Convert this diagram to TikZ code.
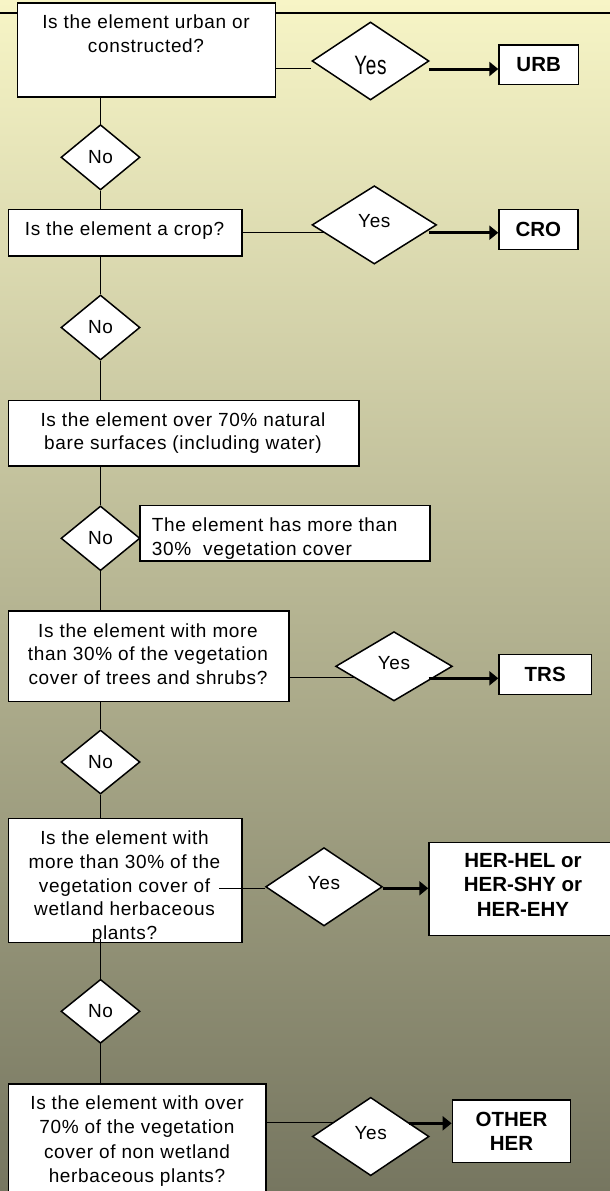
\documentclass[tikz,border=0pt]{standalone}
\usepackage{fontspec}
\setmainfont{Liberation Sans}
\newfontfamily\qfam{Liberation Sans}[LetterSpace=3.5]
\newfontfamily\bfam{Liberation Sans}
\usetikzlibrary{shapes.geometric,arrows.meta,calc}
\pgfdeclarelayer{bg}
\pgfsetlayers{bg,main}
\definecolor{bgtop}{RGB}{247,245,198}
\definecolor{bgmid}{RGB}{186,186,150}
\definecolor{bgbot}{RGB}{118,118,96}
\tikzset{
  qbox/.style={draw, line width=1.5pt, fill=white, rectangle, inner sep=0pt},
  qtext/.style={font=\qfam\fontsize{19}{23.5}\selectfont, align=center, inner sep=0pt},
  dia/.style={draw, line width=1.5pt, fill=white, diamond, inner sep=0pt, font=\qfam\fontsize{19}{23}\selectfont},
  res/.style={draw, line width=1.5pt, fill=white, rectangle, inner sep=0pt, font=\bfam\bfseries\fontsize{20.5}{24.5}\selectfont, align=center},
  conn/.style={line width=1.4pt},
  arr/.style={line width=3pt, -{Triangle[length=9pt,width=14pt]}},
}
\begin{document}
\begin{tikzpicture}[x=1pt,y=-1pt]
\useasboundingbox (0,0) rectangle (610,1191);
% question boxes
\node[qbox, minimum width=257.9pt, minimum height=94.3pt] (box1) at (146.5,49.9) {};
\node[qbox, minimum width=233.4pt, minimum height=46.7pt] (box2) at (125.3,232.7) {};
\node[qbox, minimum width=350.4pt, minimum height=65.3pt] (box3) at (183.8,433.3) {};
\node[qbox, minimum width=290pt, minimum height=55.3pt] (veg) at (285,533.3) {};
\node[qbox, minimum width=280.4pt, minimum height=90.7pt] (box4) at (148.8,656.3) {};
\node[qbox, minimum width=233.4pt, minimum height=124.4pt] (box5) at (125.3,880.5) {};
\node[qbox, minimum width=257.1pt, minimum height=116pt] (box6) at (137.2,1142) {};
% question texts
\node[qtext, anchor=north] (t1) at (146,14.7) {Is the element urban or\\constructed?};
\node[qtext] (t2) at (124.5,230.2) {Is the element a crop?};
\node[qtext] (t3) at (183,433.2) {Is the element over 70\% natural\\bare surfaces (including water)};
\node[qtext] (t4) at (148,653.8) {Is the element with more\\than 30\% of the vegetation\\cover of trees and shrubs?};
\begin{scope}
  \clip ($(veg.south west)+(0.8,-0.8)$) rectangle ($(veg.north east)+(-0.8,0.8)$);
  \node[qtext, align=left, anchor=north west, font=\qfam\fontsize{19}{24.3}\selectfont] (tveg) at (151.7,517.1) {The element has more than\\30\%~ vegetation cover};
\end{scope}
\begin{scope}
  \clip ($(box5.south west)+(0.8,-0.8)$) rectangle ($(box5.north east)+(-0.8,0.8)$);
  \node[qtext, anchor=north, font=\qfam\fontsize{19}{23.6}\selectfont] (t5) at (124.5,831) {Is the element with\\more than 30\% of the\\vegetation cover of\\wetland herbaceous\\plants?};
\end{scope}
\node[qtext, anchor=north, font=\qfam\fontsize{19}{24.2}\selectfont] (t6) at (137,1095.7) {Is the element with over\\70\% of the vegetation\\cover of non wetland\\herbaceous plants?};
% diamonds
\node[dia, minimum width=117pt, minimum height=78pt, text height=26pt, text depth=0pt] (yes1) at (370.5,61) {\scalebox{1}[1.4]{Yes}};
\node[dia, minimum width=124.5pt, minimum height=78.3pt, text depth=7pt] (yes2) at (374.3,224.9) {Yes};
\node[dia, minimum width=116.7pt, minimum height=69.3pt, text depth=7pt] (yes4) at (394,666.3) {Yes};
\node[dia, minimum width=116.7pt, minimum height=78.3pt, text depth=7pt] (yes5) at (324,886.8) {Yes};
\node[dia, minimum width=116.7pt, minimum height=78.4pt, text depth=7pt] (yes6) at (370.7,1136.5) {Yes};
\node[dia, minimum width=79pt, minimum height=65.3pt] (no1) at (100.5,157.3) {No};
\node[dia, minimum width=79pt, minimum height=65pt] (no2) at (100.5,327.5) {No};
\node[dia, minimum width=79pt, minimum height=64.7pt] (no3) at (100.5,538.3) {No};
\node[dia, minimum width=79pt, minimum height=64pt] (no4) at (100.5,762) {No};
\node[dia, minimum width=79pt, minimum height=64pt] (no5) at (100.5,1011.3) {No};
% result boxes
\node[res, minimum width=79.3pt, minimum height=39.3pt] (urb) at (538.7,64.7) {URB};
\node[res, minimum width=78.7pt, minimum height=40pt] (cro) at (538.4,229.3) {CRO};
\node[res, minimum width=92.3pt, minimum height=40pt] (trs) at (545.2,674.3) {TRS};
\node[res, minimum width=188pt, minimum height=93.4pt, text depth=9pt] (her) at (523,889) {HER-HEL or\\HER-SHY or\\HER-EHY};
\node[res, minimum width=118.3pt, minimum height=62.3pt] (other) at (511.5,1131.2) {OTHER\\HER};
% background and hidden connectors
\begin{pgfonlayer}{bg}
  \shade[top color=bgtop, middle color=bgmid, bottom color=bgbot] (0,0) rectangle (610,1191);
  \coordinate (tl) at (0,13.3);
  \coordinate (tr) at (610,13.3);
  \draw[line width=1.8pt] (tl) -- (tr);
  \draw[conn] (box1.south -| no1.north) -- (no1.north);
  \draw[conn] (no1.south) -- (no1.south |- box2.north);
  \draw[conn] (box2.south -| no2.north) -- (no2.north);
  \draw[conn] (no2.south) -- (no2.south |- box3.north);
  \draw[conn] (box3.south -| no3.north) -- (no3.north);
  \draw[conn] (no3.south) -- (no3.south |- box4.north);
  \draw[conn] (box4.south -| no4.north) -- (no4.north);
  \draw[conn] (no4.south) -- (no4.south |- box5.north);
  \draw[conn] (no5.south) -- (no5.south |- box6.north);
  \draw[conn] ($(box1.east)+(0,18.8)$) -- ($(box1.east -| yes1.west)+(0,18.8)$);
  \draw[conn] (box2.east) -- (box2.east -| yes2.center);
  \draw[conn] ($(box4.east)+(0,21.4)$) -- ($(box4.east -| yes4.center)+(0,21.4)$);
  \draw[conn] ($(box6.north east)+(0,39.3)$) -- ($(box6.north east -| yes6.center)+(0,39.3)$);
\end{pgfonlayer}
% visible connectors on top
\draw[conn] ($(box5.south -| no5.north)+(0,-4)$) -- (no5.north);
\draw[conn] ($(box5.east |- yes5.west)+(-23.4,1.5)$) -- ($(yes5.west)+(0,1.5)$);
% arrows
\draw[arr] ($(urb.west -| yes1.east)+(-1,4.3)$) -- ($(urb.west)+(0,4.3)$);
\draw[arr] ($(cro.west -| yes2.east)+(-8.5,3.4)$) -- ($(cro.west)+(0,3.4)$);
\draw[arr] ($(trs.west -| yes4.east)+(-24.4,4)$) -- ($(trs.west)+(0,4)$);
\draw[arr] ($(yes5.east)+(0,1.5)$) -- ($(yes5.east -| her.west)+(0,1.5)$);
\draw[arr] ($(other.west -| yes6.east)+(-20.6,-7.9)$) -- ($(other.west)+(0,-7.9)$);
\end{tikzpicture}
\end{document}
